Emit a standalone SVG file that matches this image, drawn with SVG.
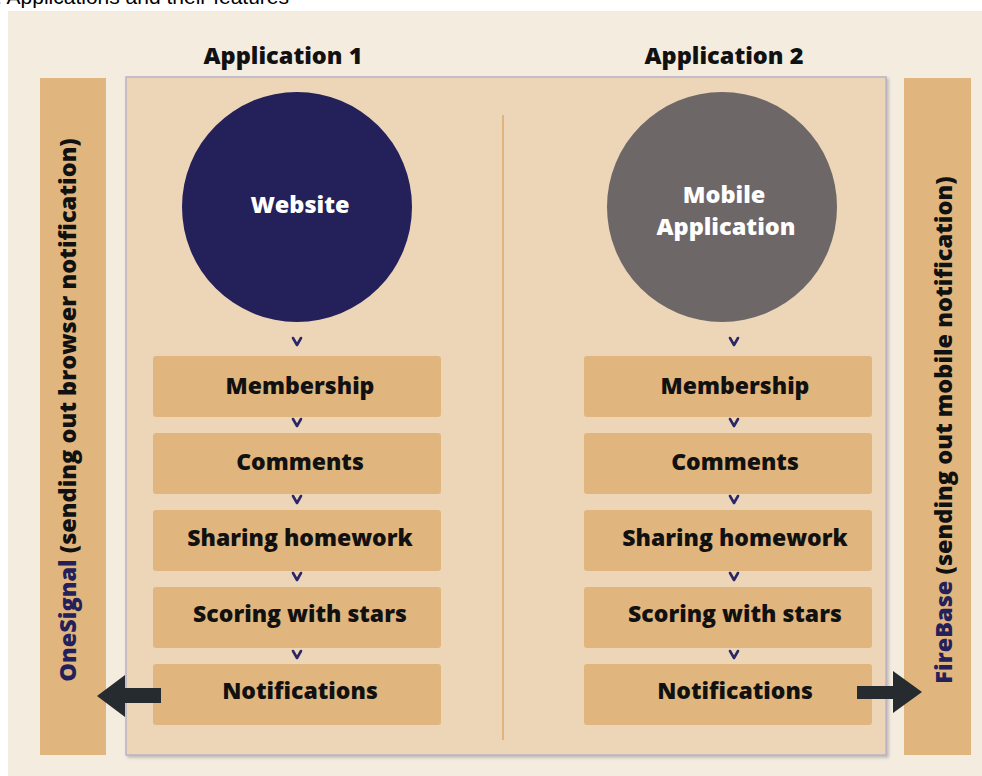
<svg xmlns="http://www.w3.org/2000/svg" width="982" height="776" viewBox="0 0 982 776">
<style>
.cap{font-family:"Liberation Sans",Arial,sans-serif;font-size:21px;fill:#000}
.t{font-family:"Open Sans","Liberation Sans",sans-serif;font-weight:800;font-size:23px;fill:#111;text-anchor:middle}
.h{font-size:23.5px}
.w{font-family:"Open Sans","Liberation Sans",sans-serif;font-weight:800;font-size:23.5px;fill:#fff;text-anchor:middle}
.box{fill:#E0B67E}
.chev{fill:none;stroke:#2A2668;stroke-width:2.6;stroke-linecap:round;stroke-linejoin:round}
.side{fill:#E0B67E}
.vt{font-family:"Open Sans","Liberation Sans",sans-serif;font-weight:800;font-size:23.5px;fill:#111;text-anchor:middle}
.arrow{fill:#262B30}
</style>
<defs>
<filter id="sh" x="-5%" y="-5%" width="110%" height="110%"><feDropShadow dx="2" dy="2" stdDeviation="1.5" flood-color="#888" flood-opacity="0.5"/></filter>
</defs>
<rect x="0" y="0" width="982" height="776" fill="#fff"/>
<text class="cap" x="-4" y="4">: Applications and their features</text>
<rect x="8" y="11" width="974" height="765" fill="#F5ECE0"/>
<g id="onesignal">
<rect class="side" x="40" y="78" width="66" height="677"/>
<text class="vt" transform="translate(76,410) rotate(-90)"><tspan fill="#24205A">OneSignal</tspan> (sending out browser notification)</text>
</g>
<g id="firebase">
<rect class="side" x="904" y="78" width="67" height="677"/>
<text class="vt" transform="translate(952,430) rotate(-90)"><tspan fill="#24205A">FireBase</tspan> (sending out mobile notification)</text>
</g>
<g id="panel">
<rect x="126" y="77" width="760" height="678" fill="#EDD6B8" stroke="#B8B3C8" stroke-width="1.5" filter="url(#sh)"/>
<line x1="503" y1="115" x2="503" y2="740" stroke="#E0B37F" stroke-width="2"/>
</g>
<text class="t h" x="283" y="64">Application 1</text>
<text class="t h" x="724" y="64">Application 2</text>
<g id="website">
<circle cx="297" cy="207" r="115" fill="#24205A"/>
<text class="w" x="300" y="213">Website</text>
</g>
<g id="mobile">
<circle cx="722" cy="207" r="115" fill="#6E6767"/>
<text class="w" x="724" y="203">Mobile</text>
<text class="w" x="726" y="235">Application</text>
</g>
<g id="l-membership"><rect class="box" x="153" y="356" width="288" height="61" rx="3"/><text class="t" x="300" y="394">Membership</text></g>
<g id="l-comments"><rect class="box" x="153" y="433" width="288" height="61" rx="3"/><text class="t" x="300" y="470">Comments</text></g>
<g id="l-sharing"><rect class="box" x="153" y="510" width="288" height="61" rx="3"/><text class="t" x="300" y="546">Sharing homework</text></g>
<g id="l-scoring"><rect class="box" x="153" y="587" width="288" height="61" rx="3"/><text class="t" x="300" y="622">Scoring with stars</text></g>
<g id="l-notifications"><rect class="box" x="153" y="664" width="288" height="61" rx="3"/><text class="t" x="300" y="699">Notifications</text></g>
<g id="r-membership"><rect class="box" x="584" y="356" width="288" height="61" rx="3"/><text class="t" x="735" y="394">Membership</text></g>
<g id="r-comments"><rect class="box" x="584" y="433" width="288" height="61" rx="3"/><text class="t" x="735" y="470">Comments</text></g>
<g id="r-sharing"><rect class="box" x="584" y="510" width="288" height="61" rx="3"/><text class="t" x="735" y="546">Sharing homework</text></g>
<g id="r-scoring"><rect class="box" x="584" y="587" width="288" height="61" rx="3"/><text class="t" x="735" y="622">Scoring with stars</text></g>
<g id="r-notifications"><rect class="box" x="584" y="664" width="288" height="61" rx="3"/><text class="t" x="735" y="699">Notifications</text></g>
<g id="connectors">
<path class="chev" d="M293,338 L297,345 L301,338"/>
<path class="chev" d="M293,419 L297,426 L301,419"/>
<path class="chev" d="M293,496 L297,503 L301,496"/>
<path class="chev" d="M293,573 L297,580 L301,573"/>
<path class="chev" d="M293,651 L297,658 L301,651"/>
<path class="chev" d="M730,338 L734,345 L738,338"/>
<path class="chev" d="M730,419 L734,426 L738,419"/>
<path class="chev" d="M730,496 L734,503 L738,496"/>
<path class="chev" d="M730,573 L734,580 L738,573"/>
<path class="chev" d="M730,651 L734,658 L738,651"/>
<path class="arrow" d="M161,688 L125,688 L125,675 L97,696 L125,717 L125,703 L161,703 Z"/>
<path class="arrow" d="M857,686 L893,686 L893,671 L922,692 L893,713 L893,699 L857,699 Z"/>
</g>
</svg>
